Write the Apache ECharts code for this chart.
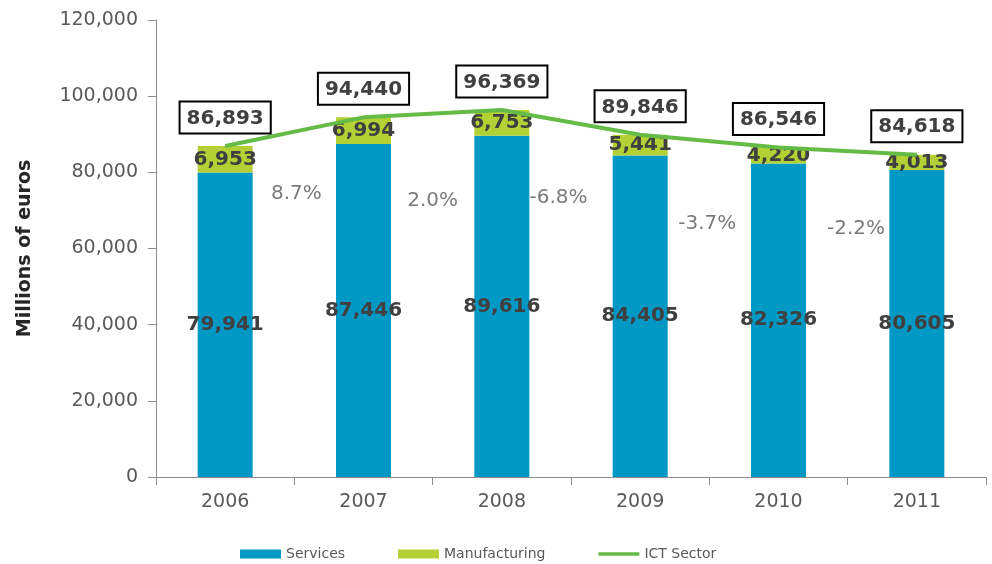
<!DOCTYPE html>
<html>
<head>
<meta charset="utf-8">
<script src="https://cdn.jsdelivr.net/npm/echarts@6/dist/echarts.min.js"></script>
<style>
html,body{margin:0;padding:0;background:#fff;}
#chart{width:992px;height:564px;}
</style>
</head>
<body>
<div id="chart"></div>
<script>
var years = ['2006', '2007', '2008', '2009', '2010', '2011'];
var services = [79941, 87446, 89616, 84405, 82326, 80605];
var manufacturing = [6953, 6994, 6753, 5441, 4220, 4013];
var ictTotal = [86893, 94440, 96369, 89846, 86546, 84618];
// anchor points (in axis units) of the year-on-year growth annotations
var growthAnchorX = [0.515, 1.50, 2.41, 3.485, 4.56];
var growthAnchorY = [74300, 72600, 73250, 66500, 65100];
var yTicks = { min: 0, max: 120000, interval: 20000 };

function fmt(v) { return Number(v).toLocaleString('en-US'); }

var growthData = [];
for (var i = 1; i < ictTotal.length; i++) {
  var g = (ictTotal[i] / ictTotal[i - 1] - 1) * 100;
  growthData.push([growthAnchorX[i - 1], growthAnchorY[i - 1], g.toFixed(1) + '%']);
}

var FONT = '"DejaVu Sans", Verdana, sans-serif';
var chart = echarts.init(document.getElementById('chart'), null, { renderer: 'canvas' });
chart.setOption({
  animation: false,
  backgroundColor: '#ffffff',
  textStyle: { fontFamily: FONT },
  grid: { left: 156, right: 6, top: 20, bottom: 87, containLabel: false },
  legend: {
    left: 235, top: 542,
    itemWidth: 41, itemHeight: 9, itemGap: 53,
    textStyle: { fontFamily: FONT, fontSize: 14, color: '#595959' },
    data: [
      { name: 'Services', icon: 'rect' },
      { name: 'Manufacturing', icon: 'rect' },
      { name: 'ICT Sector', icon: 'path://M0,0L41,0L41,0.01ZM0,2.8h41v3.4h-41zM0,9L41,9L41,9.01Z' }
    ]
  },
  xAxis: [{
    type: 'category',
    data: years,
    axisLine: { lineStyle: { color: '#8c8c8c', width: 1 } },
    axisTick: { show: true, length: 8, lineStyle: { color: '#8c8c8c' } },
    axisLabel: { fontFamily: FONT, fontSize: 19, color: '#595959', margin: 16 }
  }, {
    type: 'value', min: -0.5, max: 5.5, show: false
  }],
  yAxis: {
    type: 'value',
    min: yTicks.min, max: yTicks.max, interval: yTicks.interval,
    name: 'Millions of euros',
    nameLocation: 'middle',
    nameGap: 121,
    nameTextStyle: { fontFamily: FONT, fontSize: 19, fontWeight: 'bold', color: '#262626' },
    axisLine: { show: true, onZero: false, lineStyle: { color: '#8c8c8c', width: 1 } },
    axisTick: { show: true, length: 8, lineStyle: { color: '#8c8c8c' } },
    splitLine: { show: false },
    axisLabel: { fontFamily: FONT, fontSize: 19, color: '#595959', margin: 18, formatter: fmt }
  },
  series: [{
    name: 'Services', type: 'bar', stack: 'ict', barWidth: 55,
    data: services,
    itemStyle: { color: '#0098c5' },
    label: { show: true, position: 'inside', formatter: function (p) { return fmt(p.value); },
      fontFamily: FONT, fontSize: 20, fontWeight: 'bold', color: '#404040' }
  }, {
    name: 'Manufacturing', type: 'bar', stack: 'ict', barWidth: 55,
    data: manufacturing,
    itemStyle: { color: '#b3d135' },
    label: { show: true, position: 'inside', formatter: function (p) { return fmt(p.value); },
      fontFamily: FONT, fontSize: 20, fontWeight: 'bold', color: '#404040' }
  }, {
    name: 'ICT Sector', type: 'line',
    data: ictTotal,
    symbol: 'circle', symbolSize: 1,
    itemStyle: { color: '#64bb46' },
    lineStyle: { color: '#64bb46', width: 4 },
    z: 5,
    label: { show: true, position: 'top', distance: 13,
      formatter: function (p) { return fmt(p.value); },
      fontFamily: FONT, fontSize: 20, fontWeight: 'bold', color: '#404040',
      backgroundColor: '#ffffff', borderColor: '#000000', borderWidth: 2,
      padding: [5, 6, 3, 6], lineHeight: 22 }
  }, {
    name: 'growth', type: 'scatter', xAxisIndex: 1,
    data: growthData,
    symbolSize: 1,
    itemStyle: { color: 'rgba(0,0,0,0)' },
    z: 6,
    label: { show: true, position: 'inside',
      formatter: function (p) { return p.value[2]; },
      fontFamily: FONT, fontSize: 20, color: '#595959' }
  }]
});
</script>
</body>
</html>
